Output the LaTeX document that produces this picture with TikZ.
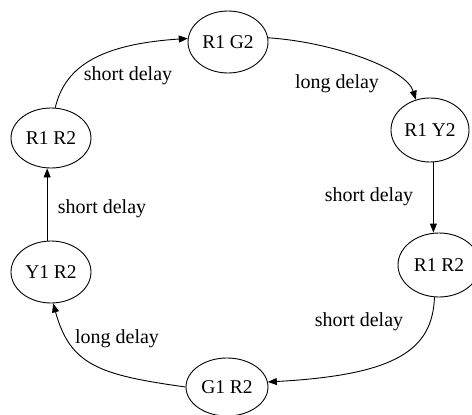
\documentclass[tikz,border=0pt]{standalone}
\usepackage{fontspec}
\setmainfont{Liberation Serif}
\usetikzlibrary{arrows.meta,shapes.geometric}
\begin{document}
\begin{tikzpicture}[x=1pt,y=-1pt,
  state/.style={draw,ellipse,inner sep=0pt,line width=0.9pt,font=\fontsize{19.5}{22}\selectfont},
  lbl/.style={inner sep=0pt,font=\fontsize{20}{22}\selectfont},
  edge/.style={line width=0.9pt,-{Triangle[length=9pt,width=7pt]}}]
\useasboundingbox (0,0) rectangle (472,415);
\node[state,minimum width=80pt,minimum height=62pt] (rg) at (228,42) {R1 G2};
\node[state,minimum width=80pt,minimum height=60pt] (rr1) at (51,138) {R1 R2};
\node[state,minimum width=78pt,minimum height=64pt] (ry) at (430,130) {R1 Y2};
\node[state,minimum width=82pt,minimum height=64pt] (rr2) at (439,265) {R1 R2};
\node[state,minimum width=80pt,minimum height=62pt] (yr) at (51,272) {Y1 R2};
\node[state,minimum width=82pt,minimum height=58pt] (gr) at (227,387) {G1 R2};

\draw[edge] (rr1.82) .. controls +(9,-38) and +(-93,6) .. (rg.175);
\draw[edge] (rg.6) .. controls +(62,4) and +(-10,-32) .. (ry.115);
\draw[edge] (ry.-84) -- (ry.-84 |- rr2.north);
\draw[edge] (rr2.-98) .. controls +(-2,53) and +(128,-7) .. (gr.7);
\draw[edge] (gr.west) .. controls +(-86,-12) and +(17,62) .. (yr.-86);
\draw[edge] (yr.97) -- (yr.97 |- rr1.south);

\node[lbl] (l1) at (128,76) {short delay};
\node[lbl] (l2) at (337,84) {long delay};
\node[lbl] (l3) at (369,197) {short delay};
\node[lbl] (l4) at (359,322) {short delay};
\node[lbl] (l5) at (117,339) {long delay};
\node[lbl] (l6) at (102,209) {short delay};
\end{tikzpicture}
\end{document}
